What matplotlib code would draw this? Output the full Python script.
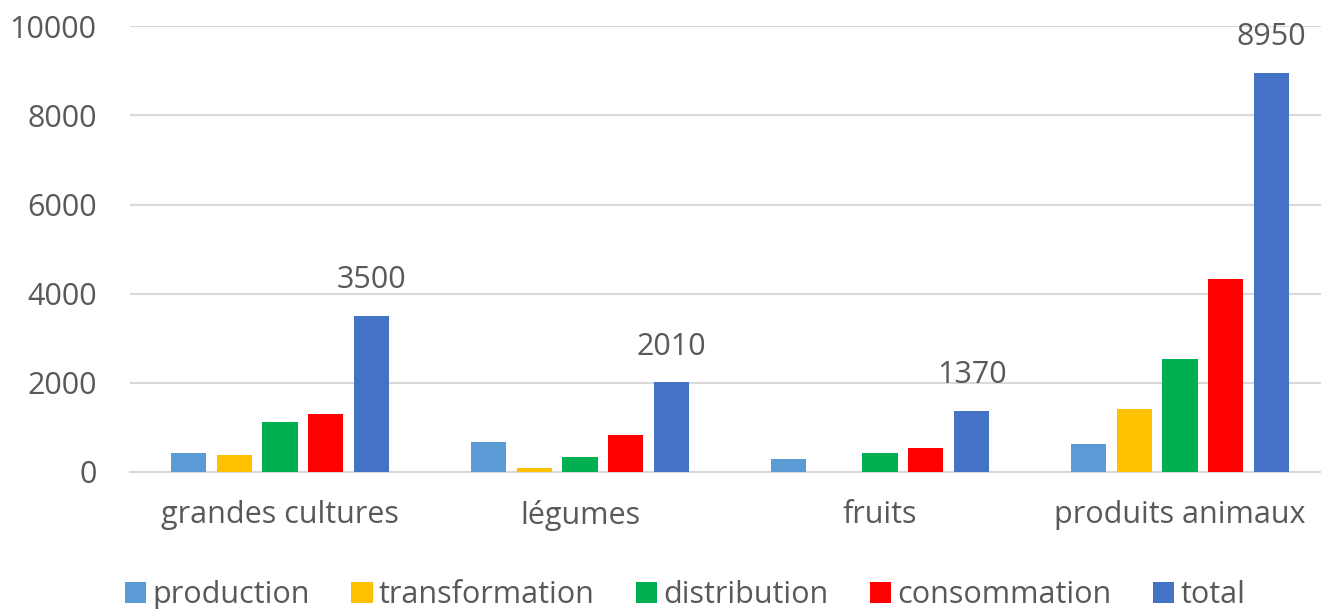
import numpy as np
import matplotlib.pyplot as plt

categories = ["grandes cultures", "légumes", "fruits", "produits animaux"]
series = ["production", "transformation", "distribution", "consommation", "total"]
production = [430, 680, 290, 630]
transformation = [385, 90, 0, 1415]
distribution = [1130, 340, 430, 2540]
consommation = [1310, 820, 540, 4340]
total = [3500, 2010, 1370, 8950]
colors = ["#5b9bd5", "#ffc000", "#00b050", "#ff0000", "#4472c4"]

plt.rcParams["font.family"] = ["Open Sans", "DejaVu Sans"]
text_col = "#595959"

fig = plt.figure(figsize=(13.21, 6.09), dpi=100)
ax = fig.add_axes([130 / 1321, 0.225, 1200 / 1321, 0.732])

x = np.arange(len(categories))
width = 0.117
pitch = 0.153
values = [production, transformation, distribution, consommation, total]
for i, (name, vals, c) in enumerate(zip(series, values, colors)):
    bars = ax.bar(x + (i - 2) * pitch, vals, width, color=c, label=name, zorder=3)
    if name == "total":
        ax.bar_label(bars, labels=[str(v) for v in vals], padding=15,
                     fontsize=22, color=text_col)

ax.set_xlim(-0.5, 3.5)
ax.set_ylim(0, 10000)
ax.set_yticks(range(0, 10001, 2000))
ax.set_xticks(x)
ax.set_xticklabels(categories)
ax.grid(axis="y", color="#d9d9d9", linewidth=1.5, zorder=0)
for s in ["top", "right", "left"]:
    ax.spines[s].set_visible(False)
ax.spines["bottom"].set_color("#d9d9d9")
ax.spines["bottom"].set_linewidth(1.5)
ax.tick_params(axis="y", length=0, pad=24, labelsize=22, labelcolor=text_col)
ax.tick_params(axis="x", length=0, pad=20, labelsize=22, labelcolor=text_col)

fig.legend(loc="center", bbox_to_anchor=(685 / 1321, 14 / 609), ncol=5,
           frameon=False, fontsize=22, labelcolor=text_col,
           handlelength=0.7, handleheight=0.7, handletextpad=0.2,
           columnspacing=1.35, borderpad=0)

fig.savefig("out.png", dpi=100)
